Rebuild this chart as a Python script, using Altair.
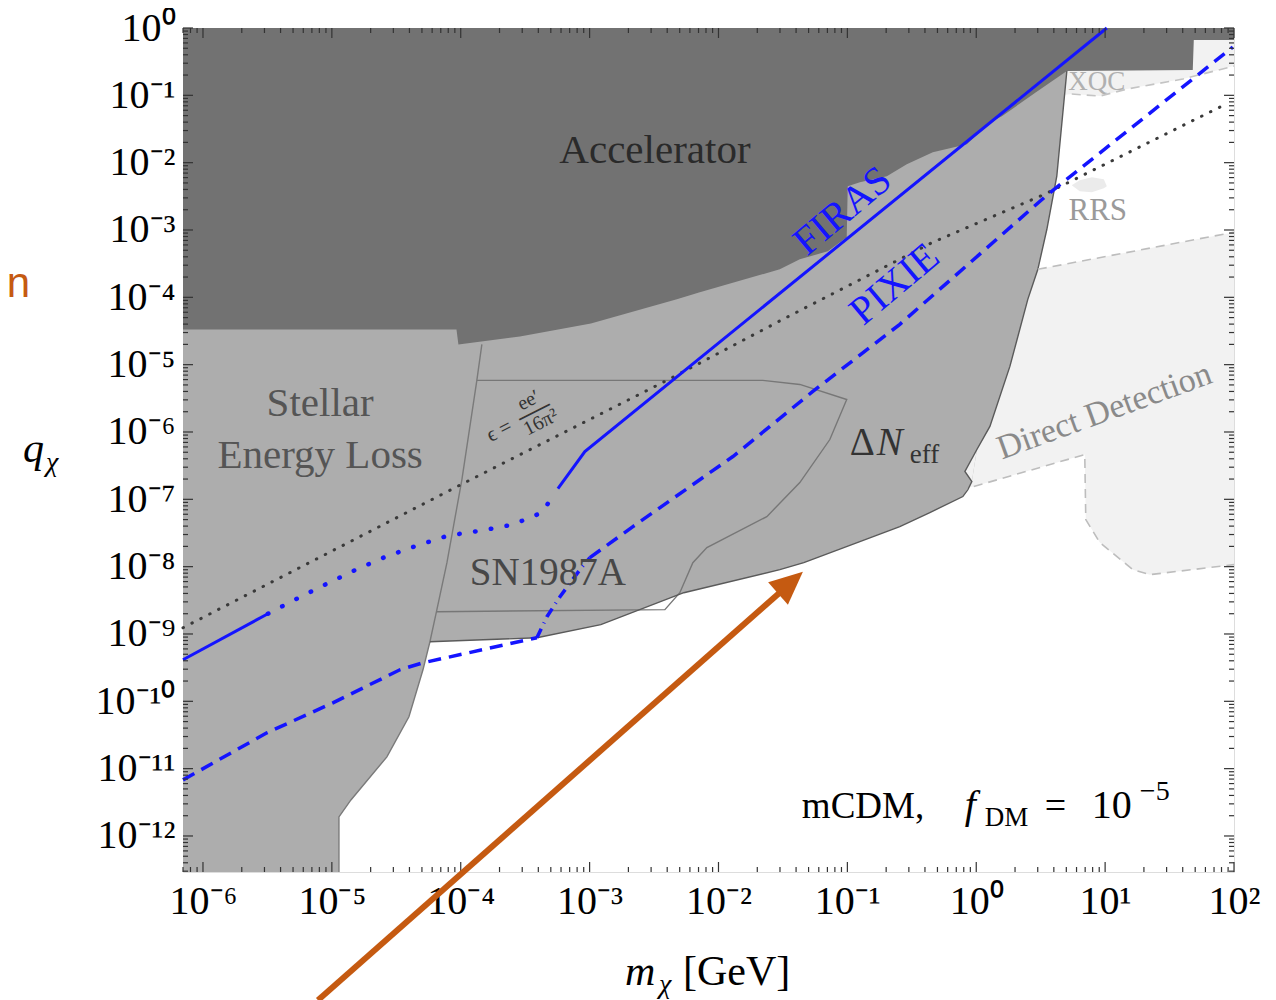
import altair as alt
import pandas as pd

SERIF = "Liberation Serif"

# ---------------- axis ranges (log10) ----------------
X_LOG = [-6.155, 2.0]
Y_LOG = [-12.535, 0.0]
X_MAJOR_EXP = list(range(-6, 3))
Y_MAJOR_EXP = list(range(-12, 1))

# ---------------- regions (log10 coordinates) ----------------
# Direct detection (light grey) lower boundary
dd_lx = [-0.127, -0.019, 0.842, 0.850, 0.959, 1.215, 1.347, 2.0]
dd_ly = [-6.855, -6.810, -6.335, -7.301, -7.643, -8.045, -8.119, -7.970]
# upper dashed boundary of direct detection (white above)
ddtop_lx = [0.416, 0.478, 2.0]
ddtop_ly = [-3.599, -3.584, -3.033]
# XQC lower dashed boundary
xqc_lx = [0.680, 0.741, 0.959, 1.169, 1.603, 2.0]
xqc_ly = [-0.996, -0.981, -1.011, -0.907, -0.758, -0.565]
# RRS small blob
rrs_lx = [0.741, 0.803, 0.897, 0.990, 1.013]
rrs_lo = [-2.335, -2.424, -2.439, -2.379, -2.349]
rrs_hi = [-2.335, -2.260, -2.216, -2.245, -2.349]
# medium grey (Stellar + SN1987A + Delta N_eff) lower boundary
med_lx = [-6.155, -4.947, -4.945, -4.852, -4.573, -4.402, -4.293, -4.239, -3.409, -2.913,
          -2.269, -1.524, -1.338, -0.903, -0.593, -0.360, -0.104, -0.034, 0.005, 0.106,
          0.261, 0.400, 0.478, 0.548, 0.625, 0.703, 0.710]
med_ly = [-12.535, -12.535, -11.717, -11.465, -10.825, -10.230, -9.532, -9.115, -9.056, -8.862,
          -8.387, -8.045, -7.941, -7.628, -7.405, -7.197, -6.959, -6.736, -6.260, -5.918,
          -5.026, -4.030, -3.584, -2.989, -2.201, -0.639, 0.0]
# small notch in the Delta N_eff edge
notch_lx = [-0.088, -0.034, 0.005]
notch_lo = [-6.587, -6.736, -6.260]
notch_hi = [-6.587, -6.394, -6.260]
# Accelerator (dark grey) lower boundary
acc_lx = [-6.155, -4.033, -4.018, -3.541, -2.990, -2.323, -2.145, -1.524, -1.369, -1.152,
          -1.005, -0.997, -0.903, -0.694, -0.539, -0.337, -0.073, 0.106, 0.199, 0.455,
          0.703, 1.680, 1.688, 2.0]
acc_ly = [-4.476, -4.476, -4.699, -4.580, -4.387, -4.030, -3.926, -3.584, -3.435, -3.316,
          -3.108, -2.349, -2.290, -2.201, -2.022, -1.844, -1.725, -1.398, -1.309, -0.967,
          -0.639, -0.625, -0.178, -0.178]
# outlines
stellar_lx = [-4.945, -4.945, -4.852, -4.573, -4.402, -4.293, -4.239, -4.185, -4.107, -3.991, -3.875, -3.836]
stellar_ly = [-12.535, -11.717, -11.465, -10.825, -10.230, -9.532, -9.115, -8.639, -7.941, -6.706, -5.234, -4.699]
sn_lx = [-3.875, -1.656, -1.369, -1.005, -1.136, -1.369, -1.625, -2.090, -2.199, -2.300, -2.416, -4.185]
sn_ly = [-5.234, -5.234, -5.294, -5.517, -6.112, -6.751, -7.257, -7.717, -7.941, -8.387, -8.639, -8.669]
dn_lx = [-4.239, -3.409, -2.913, -2.269, -1.524, -1.338, -0.903, -0.593, -0.360, -0.104, -0.065,
         -0.034, -0.088, 0.005, 0.106, 0.261, 0.400, 0.478, 0.548, 0.625, 0.703]
dn_ly = [-9.115, -9.056, -8.862, -8.387, -8.045, -7.941, -7.628, -7.405, -7.197, -6.959, -6.855,
         -6.736, -6.587, -6.260, -5.918, -5.026, -4.030, -3.584, -2.989, -2.201, -0.639]

# ---------------- curves ----------------
firas1_lx = [-6.155, -5.496]
firas1_ly = [-9.383, -8.699]
firas_dot_lx = [-5.496, -5.271, -5.038, -4.813, -4.580, -4.340, -4.099, -3.843, -3.595, -3.370, -3.262]
firas_dot_ly = [-8.699, -8.476, -8.253, -8.045, -7.851, -7.688, -7.539, -7.465, -7.375, -7.197, -6.885]
firas2_lx = [-3.246, -3.037, 1.013]
firas2_ly = [-6.840, -6.290, 0.0]
pixie1_lx = [-6.155, -5.504, -4.992, -4.472, -4.294, -3.409]
pixie1_ly = [-11.167, -10.468, -10.022, -9.532, -9.428, -9.056]
pixie_dd_lx = [-3.409, -3.331, -3.230, -3.075, -2.998]
pixie_dd_ly = [-9.056, -8.743, -8.446, -8.045, -7.866]
pixie2_lx = [-2.998, -2.664, -1.888, -1.268, -0.593, 0.548, 1.991]
pixie2_ly = [-7.866, -7.405, -6.364, -5.398, -4.401, -2.483, -0.283]
eps_lx = [-6.155, -3.983, -2.401, -1.501, -0.337, 0.532, 1.953]
eps_ly = [-8.907, -6.766, -5.234, -4.327, -3.182, -2.468, -1.115]
arrow_lx = [-5.108, -1.446]
arrow_ly = [-14.439, -8.253]
arrow_tip = (-1.345, -8.074)

# ---------------- labels ----------------
region_text = ["Accelerator", "Stellar", "Energy Loss", "SN1987A"]
region_lx = [-2.493, -5.091, -5.091, -3.324]
region_ly = [-1.829, -5.591, -6.364, -8.089]
region_size = [41, 41, 41, 39]
region_col = ["#2a2a2a", "#555555", "#555555", "#474747"]

W, H = 1051, 844
ORANGE = "#c55a11"
BLUE = "#1414ff"
TOP = 10 ** Y_LOG[1]

SUP = {'-': '\u207b', '0': '\u2070', '1': '\u00b9', '2': '\u00b2', '3': '\u00b3', '4': '\u2074',
       '5': '\u2075', '6': '\u2076', '7': '\u2077', '8': '\u2078', '9': '\u2079'}


def sup(n):
    return ''.join(SUP[c] for c in str(n))


xlabels = ["10" + sup(e) for e in X_MAJOR_EXP]
ylabels = ["10" + sup(e) for e in Y_MAJOR_EXP]
xexpr = "[" + ",".join("'%s'" % s for s in xlabels) + "][round(log(datum.value)/LN10) + 6]"
yexpr = "[" + ",".join("'%s'" % s for s in ylabels) + "][round(log(datum.value)/LN10) + 12]"

xscale = alt.Scale(type="log", domain=[10 ** X_LOG[0], 10 ** X_LOG[1]], nice=False)
yscale = alt.Scale(type="log", domain=[10 ** Y_LOG[0], 10 ** Y_LOG[1]], nice=False)
xaxis = alt.Axis(values=[10.0 ** e for e in X_MAJOR_EXP], labelExpr=xexpr, ticks=False, tickSize=0,
                 domain=False, grid=False, title=None, labelFont=SERIF, labelFontSize=40,
                 labelColor="black", labelPadding=9, labelFlush=False, labelOverlap=False)
yaxis = alt.Axis(values=[10.0 ** e for e in Y_MAJOR_EXP], labelExpr=yexpr, ticks=False, tickSize=0,
                 domain=False, grid=False, title=None, labelFont=SERIF, labelFontSize=40,
                 labelColor="black", labelPadding=8, labelFlush=False, labelOverlap=False)


def X(f="x"):
    return alt.X(f + ":Q", scale=xscale, axis=xaxis)


def Y(f="y"):
    return alt.Y(f + ":Q", scale=yscale, axis=yaxis)


def pts(lx, ly):
    return pd.DataFrame({"x": [10 ** v for v in lx], "y": [10 ** v for v in ly],
                         "top": [TOP] * len(lx), "i": list(range(len(lx)))})


def area(lx, ly, color):
    # x-monotonic boundary; the region is filled from the boundary up to the top of the frame
    return alt.Chart(pts(lx, ly)).mark_area(color=color, opacity=1).encode(
        x=X(), y=Y(), y2=alt.Y2("top"))


def band(lx, lo, hi, color):
    df = pd.DataFrame({"x": [10 ** v for v in lx], "y": [10 ** v for v in lo], "y2": [10 ** v for v in hi]})
    return alt.Chart(df).mark_area(color=color, opacity=1).encode(x=X(), y=Y(), y2=alt.Y2("y2"))


def line(lx, ly, color, width, dash=None, cap="butt"):
    kw = dict(color=color, strokeWidth=width, strokeCap=cap)
    if dash:
        kw["strokeDash"] = dash
    return alt.Chart(pts(lx, ly)).mark_line(**kw).encode(x=X(), y=Y(), order="i:Q")


def dtext(lx, ly, txt, size, color, angle=0, align="center", baseline="middle", style="normal", dx=0, dy=0):
    df = pd.DataFrame({"x": [10 ** lx], "y": [10 ** ly], "t": [txt]})
    return alt.Chart(df).mark_text(font=SERIF, fontSize=size, color=color, angle=angle, align=align,
                                   baseline=baseline, fontStyle=style, dx=dx, dy=dy).encode(
        x=X(), y=Y(), text="t:N")


def ptext(x, y, txt, size, color="black", style="normal", align="left", font=SERIF):
    df = pd.DataFrame({"t": [txt]})
    return alt.Chart(df).mark_text(font=font, fontSize=size, color=color, fontStyle=style, align=align,
                                   baseline="alphabetic").encode(x=alt.value(x), y=alt.value(y), text="t:N")


LIGHT = "#f2f2f2"
layers = []
layers.append(area(dd_lx, dd_ly, LIGHT))
layers.append(area(ddtop_lx, ddtop_ly, "#ffffff"))
layers.append(area(xqc_lx, xqc_ly, LIGHT))
layers.append(dtext(0.936, -0.803, "XQC", 27, "#b0b0b0"))
layers.append(band(rrs_lx, rrs_lo, rrs_hi, "#ebebeb"))
layers.append(area(med_lx, med_ly, "#adadad"))
layers.append(band(notch_lx, notch_lo, notch_hi, LIGHT))
layers.append(area(acc_lx, acc_ly, "#727272"))

# outlines
layers.append(line(stellar_lx, stellar_ly, "#7a7a7a", 1.4))
layers.append(line(sn_lx, sn_ly, "#777777", 1.4))
layers.append(line(dn_lx, dn_ly, "#5a5a5a", 1.4))
layers.append(line(ddtop_lx[1:], ddtop_ly[1:], "#bdbdbd", 1.6, dash=[9, 6]))
layers.append(line(dd_lx[1:], dd_ly[1:], "#bdbdbd", 1.6, dash=[9, 6]))
layers.append(line(xqc_lx[1:], xqc_ly[1:], "#c4c4c4", 1.6, dash=[9, 6]))

# curves
layers.append(line(eps_lx, eps_ly, "#3a3a3a", 3, dash=[0.5, 9.5], cap="round"))
layers.append(line(firas1_lx, firas1_ly, BLUE, 3))
layers.append(line(firas_dot_lx, firas_dot_ly, BLUE, 4.5, dash=[0.5, 15.5], cap="round"))
layers.append(line(firas2_lx, firas2_ly, BLUE, 3))
layers.append(line(pixie1_lx, pixie1_ly, BLUE, 3.5, dash=[13, 8]))
layers.append(line(pixie_dd_lx, pixie_dd_ly, BLUE, 3.5, dash=[10, 6, 1, 6]))
layers.append(line(pixie2_lx, pixie2_ly, BLUE, 3.5, dash=[13, 8]))

# region labels
for t, lx, ly, s, c in zip(region_text, region_lx, region_ly, region_size, region_col):
    layers.append(dtext(lx, ly, t, s, c))
layers.append(dtext(0.943, -2.721, "RRS", 31, "#9a9a9a"))
layers.append(dtext(0.996, -5.695, "Direct Detection", 34, "#8a8a8a", angle=340))
layers.append(dtext(-1.036, -2.721, "FIRAS", 40, BLUE, angle=320))
layers.append(dtext(-0.632, -3.807, "PIXIE", 40, BLUE, angle=320))
# epsilon = e e' / 16 pi^2 (rotated, stacked fraction)
EPS = (-3.528, -5.784)
layers.append(dtext(EPS[0], EPS[1], "\u03f5 =", 21, "#333333", angle=333, dx=-26, dy=2))
layers.append(dtext(EPS[0], EPS[1], "ee\u2032", 20, "#333333", angle=333, dx=14, dy=-12))
layers.append(dtext(EPS[0], EPS[1], "\u2014", 34, "#333333", angle=333, dx=14, dy=-1))
layers.append(dtext(EPS[0], EPS[1], "16\u03c0\u00b2", 20, "#333333", angle=333, dx=15, dy=13))
# Delta N_eff
layers.append(dtext(-0.981, -6.335, "\u0394", 39, "#333333", align="left", baseline="alphabetic"))
layers.append(dtext(-0.981, -6.335, "N", 39, "#333333", align="left", baseline="alphabetic", style="italic", dx=27))
layers.append(dtext(-0.981, -6.335, "eff", 27, "#333333", align="left", baseline="alphabetic", dx=60, dy=8))
# mCDM annotation
layers.append(dtext(-1.353, -11.732, "mCDM,", 37, "black", align="left", baseline="alphabetic"))
layers.append(dtext(-1.353, -11.732, "f", 40, "black", align="left", baseline="alphabetic", style="italic", dx=163))
layers.append(dtext(-1.353, -11.732, "DM", 27, "black", align="left", baseline="alphabetic", dx=183, dy=8))
layers.append(dtext(-1.353, -11.732, "=", 38, "black", align="left", baseline="alphabetic", dx=243))
layers.append(dtext(-1.353, -11.732, "10", 40, "black", align="left", baseline="alphabetic", dx=290))
layers.append(dtext(-1.353, -11.732, "\u22125", 28, "black", align="left", baseline="alphabetic", dx=338, dy=-18))

# ticks (inward, all four sides)
xmaj = [10.0 ** e for e in X_MAJOR_EXP]
xmin = [k * 10.0 ** e for e in range(-7, 2) for k in range(2, 10)
        if 10 ** X_LOG[0] < k * 10.0 ** e < 10 ** X_LOG[1]]
ymaj = [10.0 ** e for e in Y_MAJOR_EXP]
ymin = [k * 10.0 ** e for e in range(-13, 0) for k in range(2, 10)
        if 10 ** Y_LOG[0] < k * 10.0 ** e < 10 ** Y_LOG[1]]
TICK = "#333333"
for vals, ln in ((xmaj, 10), (xmin, 5)):
    d = pd.DataFrame({"x": vals})
    layers.append(alt.Chart(d).mark_rule(color=TICK, strokeWidth=1.2).encode(x=X(), y=alt.value(H), y2=alt.value(H - ln)))
    layers.append(alt.Chart(d).mark_rule(color=TICK, strokeWidth=1.2).encode(x=X(), y=alt.value(0), y2=alt.value(ln)))
for vals, ln in ((ymaj, 10), (ymin, 5)):
    d = pd.DataFrame({"y": vals})
    layers.append(alt.Chart(d).mark_rule(color=TICK, strokeWidth=1.2).encode(y=Y(), x=alt.value(0), x2=alt.value(ln)))
    layers.append(alt.Chart(d).mark_rule(color=TICK, strokeWidth=1.2).encode(y=Y(), x=alt.value(W), x2=alt.value(W - ln)))

# orange arrow
layers.append(line(arrow_lx, arrow_ly, ORANGE, 6))
tip = pd.DataFrame({"x": [10 ** arrow_tip[0]], "y": [10 ** arrow_tip[1]]})
layers.append(alt.Chart(tip).mark_point(shape="M0,0L-0.45,1L0.45,1Z", size=4400, filled=True, color=ORANGE,
                                        opacity=1, angle=48.6, strokeWidth=0).encode(x=X(), y=Y()))

# axis titles and side text
layers.append(ptext(-160, 434, "q", 42, style="italic"))
layers.append(ptext(-137, 443, "\u03c7", 28, style="italic"))
layers.append(ptext(442, 957, "m", 42, style="italic"))
layers.append(ptext(476, 965, "\u03c7", 28, style="italic"))
layers.append(ptext(500, 957, "[GeV]", 42))
layers.append(ptext(-153, 269, "n", 42, color=ORANGE, align="right", font="Liberation Sans"))

chart = alt.layer(*layers).properties(
    width=W, height=H,
    padding={"left": 175, "top": 20, "right": 34, "bottom": 128},
    autosize=alt.AutoSizeParams(type="none"),
).configure_view(stroke="#3a3a3a", strokeWidth=2).configure(background="white")

chart.save("out.html", embed_options={"renderer": "svg", "actions": False})
